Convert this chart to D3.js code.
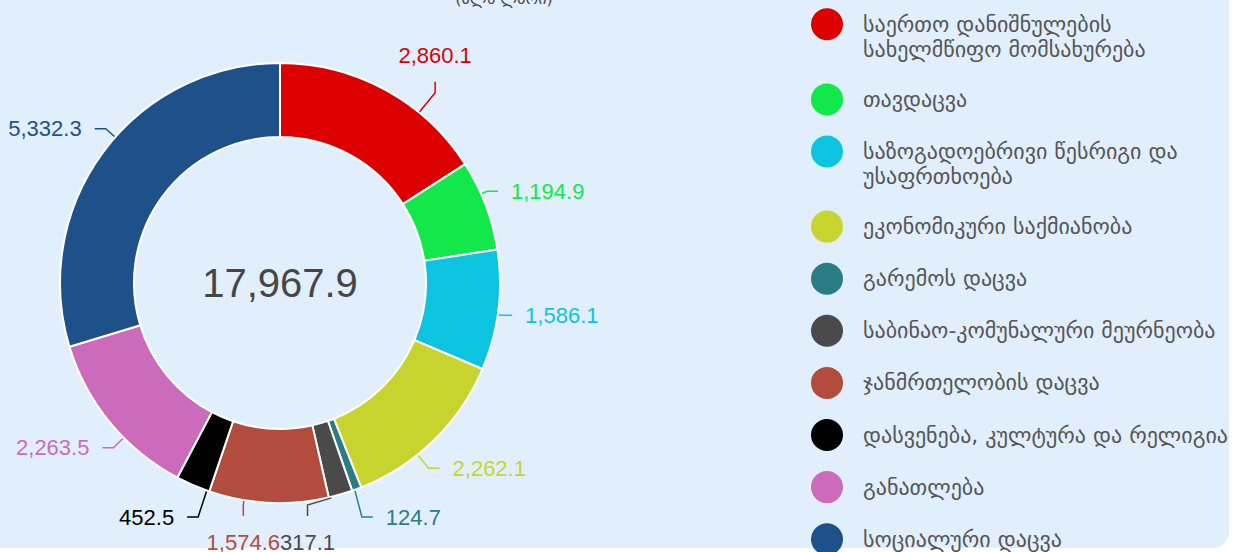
<!DOCTYPE html>
<html>
<head>
<meta charset="utf-8">
<script src="https://cdn.jsdelivr.net/npm/d3@7"></script>
<style>
  html, body { margin: 0; padding: 0; background: #fff; }
  body { width: 1237px; height: 552px; overflow: hidden; position: relative; }
  .card {
    position: absolute; left: -24px; top: -24px; width: 1253px; height: 572px;
    background: #e1effd; border-radius: 16px;
  }
  #chart { position: absolute; left: 0; top: 0; }
</style>
</head>
<body>
<div class="card"></div>
<svg id="chart" width="1237" height="552"></svg>
<script>
const categories = [
  "საერთო დანიშნულების სახელმწიფო მომსახურება",
  "თავდაცვა",
  "საზოგადოებრივი წესრიგი და უსაფრთხოება",
  "ეკონომიკური საქმიანობა",
  "გარემოს დაცვა",
  "საბინაო-კომუნალური მეურნეობა",
  "ჯანმრთელობის დაცვა",
  "დასვენება, კულტურა და რელიგია",
  "განათლება",
  "სოციალური დაცვა",
];
const values = [2860.1, 1194.9, 1586.1, 2262.1, 124.7, 317.1, 1574.6, 452.5, 2263.5, 5332.3];
const colors = [
  "#dd0000", "#12e84a", "#0cc4df", "#c8d42e", "#2a7d87",
  "#4a4a4a", "#b24c3c", "#000000", "#cc6bbc", "#1e5089",
];
const titleLines = ["ხარჯები ფუნქციონალური კლასიფიკაციით", "(მლნ ლარი)"];

const cx = 280;
const cy = 283;
const outerRadius = 220;
const innerRadius = 146;
// labels sit on an ellipse round the donut
const ellA = 247;
const ellB = 259;
const labelHeight = 25;
const labelGap = 13;
const lineLen2 = 11;

const numFont = "22px 'Liberation Sans', Arial, sans-serif";
const legendFont = "22px 'DejaVu Sans', sans-serif";
const fmt = d3.format(",.1f");

const ctx = document.createElement("canvas").getContext("2d");
const measure = (text, font) => {
  ctx.font = font;
  return ctx.measureText(text).width;
};

const rows = categories.map((label, i) => ({ label, value: values[i], color: colors[i] }));
const arcs = d3.pie().sort(null).value((d) => d.value)(rows);
const arc = d3.arc().innerRadius(innerRadius).outerRadius(outerRadius);

const svg = d3.select("#chart");

// title, mostly above the visible frame
svg.append("g")
  .attr("class", "title")
  .selectAll("text")
  .data(titleLines.slice().reverse())
  .join("text")
  .attr("x", 504)
  .attr("y", (d, i) => 4 - i * 24)
  .attr("text-anchor", "middle")
  .attr("fill", "#464646")
  .style("font", "16px 'DejaVu Sans', sans-serif")
  .text((d) => d);

const gPie = svg.append("g").attr("transform", `translate(${cx},${cy})`);

gPie.selectAll(".arc-path")
  .data(arcs)
  .join("path")
  .attr("class", "arc-path")
  .attr("fill", (d) => d.data.color)
  .attr("stroke", "#fff")
  .attr("stroke-width", 2)
  .attr("d", arc);

gPie.append("text")
  .attr("text-anchor", "middle")
  .attr("dominant-baseline", "central")
  .attr("fill", "#464646")
  .style("font", "40px 'Liberation Sans', Arial, sans-serif")
  .text(fmt(d3.sum(values)));

// ---- label layout
const labels = arcs.map((d) => {
  const mid = (d.startAngle + d.endAngle) / 2;
  const text = fmt(d.data.value);
  return {
    d,
    mid,
    text,
    side: mid < Math.PI ? 1 : -1,
    y: cy - ellB * Math.cos(mid),
    w: measure(text, numFont),
  };
});

const shiftSide = (items) => {
  if (items.length < 2) return;
  items.sort((a, b) => a.y - b.y);
  for (let i = 1; i < items.length; i++) {
    items[i].y = Math.max(items[i].y, items[i - 1].y + labelHeight);
  }
  const maxY = cy + ellB;
  if (items[items.length - 1].y > maxY) {
    items[items.length - 1].y = maxY;
    for (let i = items.length - 2; i >= 0; i--) {
      items[i].y = Math.min(items[i].y, items[i + 1].y - labelHeight);
    }
  }
};
shiftSide(labels.filter((l) => l.side === 1));
shiftSide(labels.filter((l) => l.side === -1));

const edgeR = outerRadius + 1;
const toWedge = (pt, d) => {
  let a = Math.atan2(pt[0] - cx, -(pt[1] - cy));
  if (a < 0) a += 2 * Math.PI;
  const pad = 0.012;
  const ac = Math.max(d.startAngle + pad, Math.min(d.endAngle - pad, a));
  const edge = [cx + edgeR * Math.sin(ac), cy - edgeR * Math.cos(ac)];
  return { dist: Math.hypot(pt[0] - edge[0], pt[1] - edge[1]), edge };
};

labels.forEach((l) => {
  const dy = l.y - cy;
  const k = Math.max(0, 1 - (dy / ellB) ** 2);
  l.x = cx + l.side * ellA * Math.sqrt(k);
  const x0 = l.side === 1 ? l.x : l.x - l.w;
  const x1 = x0 + l.w;
  const y0 = l.y - 13;
  const y1 = l.y + 13;
  const cands = [
    { p: [(x0 + x1) / 2, y0], dir: [0, -1] },
    { p: [(x0 + x1) / 2, y1], dir: [0, 1] },
    { p: [x0, l.y], dir: [-1, 0] },
    { p: [x1, l.y], dir: [1, 0] },
  ];
  let best = null;
  cands.forEach((c) => {
    const pt0 = [c.p[0] + c.dir[0] * labelGap, c.p[1] + c.dir[1] * labelGap];
    const pt1 = [pt0[0] + c.dir[0] * lineLen2, pt0[1] + c.dir[1] * lineLen2];
    const w = toWedge(pt1, l.d);
    if (!best || w.dist < best.dist) best = { dist: w.dist, points: [w.edge, pt1, pt0] };
  });
  l.points = best.points;
});

const gLabels = svg.append("g").attr("class", "arc-labels");

gLabels.selectAll("polyline")
  .data(labels)
  .join("polyline")
  .attr("fill", "none")
  .attr("stroke", (l) => l.d.data.color)
  .attr("stroke-width", 1.5)
  .attr("points", (l) => l.points.map((p) => p.join(",")).join(" "));

gLabels.selectAll("text")
  .data(labels)
  .join("text")
  .attr("x", (l) => l.x)
  .attr("y", (l) => l.y)
  .attr("text-anchor", (l) => (l.side === 1 ? "start" : "end"))
  .attr("dominant-baseline", "central")
  .attr("fill", (l) => l.d.data.color)
  .style("font", numFont)
  .text((l) => l.text);

// ---- legend
const legendX = 827;
const legendTextX = 863;
const legendMaxWidth = 370;
const legendLineHeight = 25;
const legendStep = 52.1;
const legendExtraLine = 23;

const wrap = (label) => {
  const words = label.split(" ");
  const lines = [];
  let line = "";
  words.forEach((w) => {
    const next = line ? line + " " + w : w;
    if (line && measure(next, legendFont) > legendMaxWidth) {
      lines.push(line);
      line = w;
    } else {
      line = next;
    }
  });
  lines.push(line);
  return lines;
};

let legendY = 24.3;
const legendItems = rows.map((r) => {
  const lines = wrap(r.label);
  const item = { ...r, lines, y: legendY };
  legendY += legendStep + (lines.length - 1) * legendExtraLine;
  return item;
});

const gLegend = svg.append("g")
  .attr("class", "legend")
  .selectAll("g")
  .data(legendItems)
  .join("g")
  .attr("transform", (d) => `translate(0,${d.y})`);

gLegend.append("circle")
  .attr("cx", legendX)
  .attr("r", 16)
  .attr("fill", (d) => d.color);

gLegend.append("text")
  .attr("fill", "#555")
  .style("font", legendFont)
  .selectAll("tspan")
  .data((d) => d.lines)
  .join("tspan")
  .attr("x", legendTextX)
  .attr("y", (d, i) => i * legendLineHeight)
  .attr("dominant-baseline", "central")
  .text((d) => d);
</script>
</body>
</html>
